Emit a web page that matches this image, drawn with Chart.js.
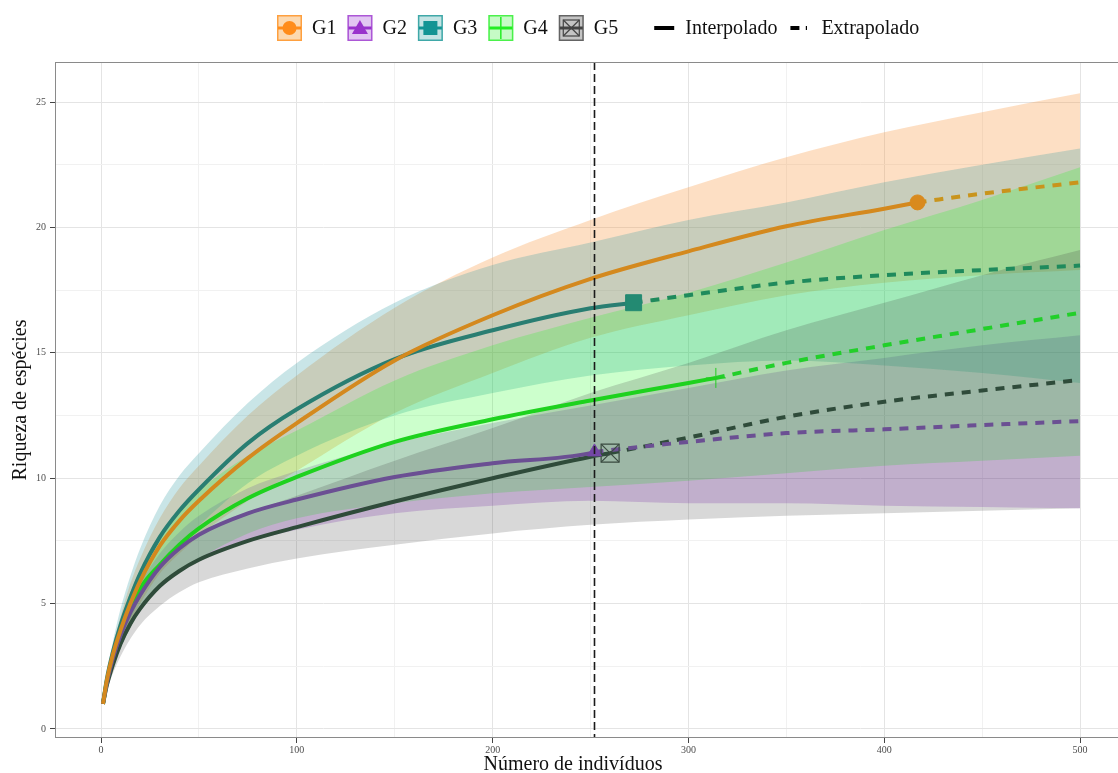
<!DOCTYPE html>
<html lang="pt">
<head>
<meta charset="utf-8">
<title>Curvas de rarefação</title>
<script src="https://cdn.jsdelivr.net/npm/chart.js@4.4.1/dist/chart.umd.min.js"></script>
<style>
  html, body { margin: 0; padding: 0; background: #fff; overflow: hidden; }
  #wrap { width: 1118px; height: 773px; overflow: hidden; }
</style>
</head>
<body>
<div id="wrap"><canvas id="rarefChart" width="1130" height="773"></canvas></div>
<script>
// grupos e grade de tamanhos de amostra (número de indivíduos)
const groups = ["G1", "G2", "G3", "G4", "G5"];
const nGrid = [1, 3, 6, 10, 15, 20, 30, 40, 50, 75, 100, 150, 200, 250, 300, 350, 400, 450, 500];

// riqueza estimada e intervalo de confiança por grupo
const g1Rich  = [1, 1.95, 2.95, 3.95, 5.0, 5.9, 7.3, 8.3, 9.1, 10.8, 12.2, 14.7, 16.5, 17.95, 19.05, 20.05, 20.75, 21.35, 21.8];
const g1Lower = [1, 1.8, 2.6, 3.4, 4.2, 5.0, 6.2, 7.0, 7.7, 9.1, 10.3, 12.6, 14.2, 15.6, 16.5, 17.3, 17.8, 18.1, 18.3];
const g1Upper = [1, 2.1, 3.3, 4.5, 5.8, 6.8, 8.4, 9.6, 10.5, 12.5, 14.1, 16.8, 18.8, 20.3, 21.6, 22.8, 23.8, 24.6, 25.35];

const g2Rich  = [1, 1.85, 2.8, 3.75, 4.65, 5.35, 6.45, 7.2, 7.75, 8.6, 9.15, 10.05, 10.6, 11.0, 11.45, 11.8, 11.95, 12.12, 12.28];
const g2Lower = [1, 1.7, 2.45, 3.25, 4.05, 4.7, 5.6, 6.25, 6.75, 7.45, 7.95, 8.6, 8.9, 9.1, 9.0, 9.0, 8.9, 8.85, 8.8];
const g2Upper = [1, 2.0, 3.0, 4.0, 5.0, 5.8, 7.0, 7.85, 8.5, 9.6, 10.3, 11.4, 12.2, 12.9, 13.6, 14.3, 14.8, 15.3, 15.7];

const g3Rich  = [1, 2.0, 3.05, 4.15, 5.25, 6.2, 7.65, 8.7, 9.55, 11.4, 12.75, 14.75, 15.9, 16.78, 17.3, 17.8, 18.1, 18.3, 18.48];
const g3Lower = [1, 1.8, 2.65, 3.5, 4.4, 5.2, 6.4, 7.3, 8.1, 9.8, 10.9, 12.5, 13.4, 14.1, 14.5, 14.7, 14.5, 14.2, 13.8];
const g3Upper = [1, 2.2, 3.45, 4.8, 6.1, 7.2, 8.9, 10.1, 11.0, 13.0, 14.6, 17.0, 18.5, 19.4, 20.3, 21.0, 21.8, 22.5, 23.15];

const g4Rich  = [1, 1.9, 2.85, 3.8, 4.75, 5.6, 6.55, 7.35, 8.0, 9.2, 10.05, 11.45, 12.35, 13.1, 13.8, 14.6, 15.3, 15.95, 16.6];
const g4Lower = [1, 1.75, 2.5, 3.25, 4.05, 4.7, 5.6, 6.3, 6.8, 7.8, 8.4, 9.0, 9.4, 9.65, 9.9, 10.2, 10.5, 10.7, 10.9];
const g4Upper = [1, 2.05, 3.2, 4.35, 5.45, 6.35, 7.7, 8.7, 9.5, 10.9, 11.9, 13.9, 15.3, 16.4, 17.4, 18.6, 19.9, 21.1, 22.4];

const g5Rich  = [1, 1.75, 2.55, 3.4, 4.2, 4.8, 5.7, 6.3, 6.75, 7.5, 8.05, 9.07, 10.0, 10.86, 11.62, 12.45, 13.05, 13.5, 13.92];
const g5Lower = [1, 1.55, 2.2, 2.9, 3.6, 4.15, 4.9, 5.45, 5.85, 6.4, 6.8, 7.35, 7.8, 8.14, 8.35, 8.5, 8.6, 8.7, 8.8];
const g5Upper = [1, 1.95, 2.8, 3.8, 4.75, 5.5, 6.55, 7.25, 7.75, 8.6, 9.3, 10.7, 12.0, 13.4, 14.6, 15.9, 17.0, 18.1, 19.1];

// amostra observada (ponto de referência de cada curva)
const obsN = [417, 252, 272, 314, 260];
const obsS = [21.0, 11.05, 17.0, 14.0, 11.0];

// linha vertical tracejada
const refN = 252;

// eixos
const xTicks = [0, 50, 100, 150, 200, 250, 300, 350, 400, 450, 500];
const xLabels = [0, 100, 200, 300, 400, 500];
const yTicks = [0, 2.5, 5, 7.5, 10, 12.5, 15, 17.5, 20, 22.5, 25];
const yLabels = [0, 5, 10, 15, 20, 25];

const richness = [g1Rich, g2Rich, g3Rich, g4Rich, g5Rich];
const lowers = [g1Lower, g2Lower, g3Lower, g4Lower, g5Lower];
const uppers = [g1Upper, g2Upper, g3Upper, g4Upper, g5Upper];

const lineColors = ["#d4891e", "#6b4f93", "#297e72", "#1ed21e", "#2f4b3a"];
const dashColors = ["#c9941c", "#6b4f93", "#1f8a5c", "#22cf2a", "#2f4b3a"];
const ribbonColors = ["rgba(250,150,60,0.3)", "rgba(150,70,200,0.28)", "rgba(40,150,160,0.25)",
                      "rgba(0,255,0,0.2)", "rgba(60,60,60,0.2)"];
const keyColors = ["#ff8c1a", "#9932cc", "#139494", "#22ee22", "#444444"];
const keyFills = ["#fcd9b0", "#e2c6f2", "#c4e4e4", "#c6fbc6", "#c4c4c4"];

const SERIF = "'Liberation Serif', 'Times New Roman', serif";

const toPts = (ns, ss) => ns.map((n, k) => ({ x: n, y: ss[k] }));

// datasets: marcadores (topo), linhas, depois faixas
const markers = [];
const lines = [];
const ribbons = [];

groups.forEach((g, i) => {
  const pts = toPts(nGrid, richness[i]);
  const obs = { x: obsN[i], y: obsS[i] };
  const interp = pts.filter(p => p.x < obsN[i]).concat([obs]);
  const extrap = [obs].concat(pts.filter(p => p.x > obsN[i]));

  lines.push({
    label: g + " interpolado", data: interp, borderColor: lineColors[i], borderWidth: 4,
    pointRadius: 0, fill: false, cubicInterpolationMode: "monotone"
  });
  lines.push({
    label: g + " extrapolado", data: extrap, borderColor: dashColors[i], borderWidth: 4,
    borderDash: [9, 8], pointRadius: 0, fill: false, cubicInterpolationMode: "monotone"
  });

  // G1 fica por baixo: faixas montadas do último grupo para o primeiro
  ribbons.unshift(
    {
      label: g + " inf", data: toPts(nGrid, lowers[i]), borderWidth: 0, borderColor: "rgba(0,0,0,0)",
      pointRadius: 0, fill: false, cubicInterpolationMode: "monotone"
    },
    {
      label: g + " sup", data: toPts(nGrid, uppers[i]), borderWidth: 0, borderColor: "rgba(0,0,0,0)",
      pointRadius: 0, fill: "-1", backgroundColor: ribbonColors[i], cubicInterpolationMode: "monotone"
    }
  );
});

const pointDs = (label, i, style, radius, bg, border, bw) => ({
  label, data: [{ x: obsN[i], y: obsS[i] }], showLine: false,
  pointStyle: style, pointRadius: radius, pointBackgroundColor: bg,
  pointBorderColor: border, pointBorderWidth: bw
});
markers.push(pointDs("G1 obs", 0, "circle", 7.5, "#d98a1e", "#d98a1e", 1));
markers.push(pointDs("G2 obs", 1, "triangle", 8, "#7446a6", "#7446a6", 1));
markers.push(pointDs("G3 obs", 2, "rect", 11.3, "#238a72", "#238a72", 1));
markers.push(pointDs("G4 obs", 3, "cross", 10, "#22cc22", "#22cc22", 1));
markers.push(pointDs("G5 obs", 4, "rect", 12.7, "rgba(0,0,0,0)", "#3a4a40", 1.2));
markers.push(pointDs("G5 obs x", 4, "crossRot", 12.7, "rgba(0,0,0,0)", "#3a4a40", 1.2));

function drawKeyMarker(ctx, i, cx, cy) {
  const c = keyColors[i];
  ctx.fillStyle = c; ctx.strokeStyle = c;
  if (i === 0) {
    ctx.beginPath(); ctx.arc(cx, cy, 7, 0, Math.PI * 2); ctx.fill();
  } else if (i === 1) {
    ctx.beginPath(); ctx.moveTo(cx, cy - 8); ctx.lineTo(cx + 8, cy + 6); ctx.lineTo(cx - 8, cy + 6);
    ctx.closePath(); ctx.fill();
  } else if (i === 2) {
    ctx.fillRect(cx - 7, cy - 7, 14, 14);
  } else if (i === 3) {
    ctx.lineWidth = 1.5;
    ctx.beginPath(); ctx.moveTo(cx, cy - 11); ctx.lineTo(cx, cy + 11); ctx.stroke();
  } else {
    ctx.lineWidth = 1.2;
    ctx.strokeRect(cx - 8, cy - 8, 16, 16);
    ctx.beginPath();
    ctx.moveTo(cx - 8, cy - 8); ctx.lineTo(cx + 8, cy + 8);
    ctx.moveTo(cx + 8, cy - 8); ctx.lineTo(cx - 8, cy + 8);
    ctx.stroke();
  }
}

const panelDecor = {
  id: "panelDecor",
  afterDatasetsDraw(chart) {
    const { ctx, chartArea: a, scales: { x } } = chart;
    ctx.save();
    const px = Math.round(x.getPixelForValue(refN)) + 0.5;
    ctx.strokeStyle = "#1a1a1a";
    ctx.lineWidth = 1.6;
    ctx.setLineDash([8, 4]);
    ctx.beginPath(); ctx.moveTo(px, a.top); ctx.lineTo(px, a.bottom); ctx.stroke();
    ctx.setLineDash([]);
    ctx.strokeStyle = "#8a8a8a";
    ctx.lineWidth = 1;
    ctx.strokeRect(a.left + 0.5, a.top + 0.5, a.right - a.left - 1, a.bottom - a.top - 1);
    ctx.restore();
  },
  afterDraw(chart) {
    const { ctx, chartArea: a } = chart;
    ctx.save();
    ctx.fillStyle = "#111";
    ctx.font = "20px " + SERIF;
    ctx.textBaseline = "middle";

    // títulos dos eixos
    ctx.textAlign = "center";
    ctx.fillText("Número de indivíduos", 573, 765);
    ctx.save();
    ctx.translate(21, (a.top + a.bottom) / 2);
    ctx.rotate(-Math.PI / 2);
    ctx.fillText("Riqueza de espécies", 0, 0);
    ctx.restore();

    // legenda
    ctx.textAlign = "left";
    const cy = 28;
    let lx = 277;
    groups.forEach((g, i) => {
      ctx.fillStyle = keyFills[i];
      ctx.fillRect(lx, cy - 13, 25, 26);
      ctx.strokeStyle = keyColors[i];
      ctx.globalAlpha = 0.75;
      ctx.lineWidth = 1.5;
      ctx.strokeRect(lx + 0.75, cy - 12.25, 23.5, 24.5);
      ctx.globalAlpha = 1;
      ctx.lineWidth = 3;
      ctx.beginPath(); ctx.moveTo(lx + 1, cy); ctx.lineTo(lx + 24, cy); ctx.stroke();
      drawKeyMarker(ctx, i, lx + 12.5, cy);
      ctx.fillStyle = "#111";
      ctx.fillText(g, lx + 35, cy + 1);
      lx += 35 + ctx.measureText(g).width + 11;
    });

    lx += 25;
    ctx.strokeStyle = "#000";
    ctx.lineWidth = 4;
    ctx.beginPath(); ctx.moveTo(lx, cy); ctx.lineTo(lx + 20, cy); ctx.stroke();
    ctx.fillText("Interpolado", lx + 31, cy + 1);
    lx += 31 + ctx.measureText("Interpolado").width + 13;
    ctx.beginPath(); ctx.moveTo(lx, cy); ctx.lineTo(lx + 9, cy); ctx.stroke();
    ctx.lineWidth = 1.2;
    ctx.beginPath(); ctx.moveTo(lx + 16, cy - 2); ctx.lineTo(lx + 16, cy + 2); ctx.stroke();
    ctx.fillText("Extrapolado", lx + 31, cy + 1);
    ctx.restore();
  }
};

new Chart(document.getElementById("rarefChart"), {
  type: "line",
  data: { datasets: [...markers, ...lines, ...ribbons] },
  options: {
    responsive: false,
    devicePixelRatio: 1,
    animation: false,
    layout: { autoPadding: false, padding: { top: 62, left: 0, right: 1, bottom: 0 } },
    plugins: {
      legend: { display: false },
      tooltip: { enabled: false },
      filler: { drawTime: "beforeDatasetsDraw" }
    },
    scales: {
      x: {
        type: "linear", min: -23.5, max: 525,
        afterBuildTicks: s => { s.ticks = xTicks.map(v => ({ value: v })); },
        afterFit: s => { s.height = 35; },
        ticks: {
          autoSkip: false, maxRotation: 0, padding: 1, color: "#4d4d4d",
          font: { family: SERIF, size: 10 },
          callback: v => xLabels.includes(v) ? String(v) : ""
        },
        grid: {
          color: c => xLabels.includes(c.tick.value) ? "#e4e4e4" : "#f1f1f1",
          tickColor: c => xLabels.includes(c.tick.value) ? "#444" : "rgba(0,0,0,0)",
          tickLength: 5
        },
        border: { display: false }
      },
      y: {
        type: "linear", min: -0.36, max: 26.6,
        afterBuildTicks: s => { s.ticks = yTicks.map(v => ({ value: v })); },
        afterFit: s => { s.width = 55; },
        ticks: {
          autoSkip: false, padding: 4, color: "#4d4d4d",
          font: { family: SERIF, size: 10 },
          callback: v => yLabels.includes(v) ? String(v) : ""
        },
        grid: {
          color: c => yLabels.includes(c.tick.value) ? "#e4e4e4" : "#f1f1f1",
          tickColor: c => yLabels.includes(c.tick.value) ? "#444" : "rgba(0,0,0,0)",
          tickLength: 5
        },
        border: { display: false }
      }
    }
  },
  plugins: [panelDecor]
});
</script>
</body>
</html>
